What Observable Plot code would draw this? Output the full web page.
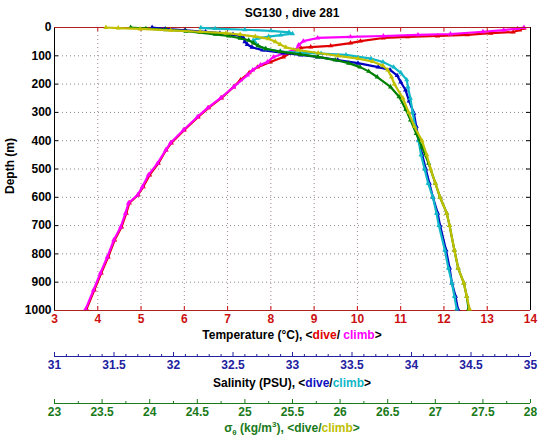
<!DOCTYPE html>
<html><head><meta charset="utf-8">
<script src="https://cdn.jsdelivr.net/npm/d3@7"></script>
<script src="https://cdn.jsdelivr.net/npm/@observablehq/plot@0.6"></script>
<style>
body{margin:0;background:#fff;}
#wrap{position:relative;width:543px;height:442px;font-family:"Liberation Sans",Arial,sans-serif;font-weight:bold;font-size:12px;background:#fff;overflow:hidden}
.layer{position:absolute;left:0;}
.lbl{position:absolute;left:54px;width:476px;text-align:center;white-space:nowrap;line-height:14px;}
sub,sup{font-size:8px;line-height:0;}
</style></head><body>
<div id="wrap">
  <div class="lbl" style="top:6px;color:#000">SG130 , dive 281</div>
  <div class="lbl" style="top:328px;color:#000">Temperature (°C), &lt;<span style="color:#e00000">dive</span>/ <span style="color:#ff00ff">climb</span>&gt;</div>
  <div class="lbl" style="top:376px;color:#000">Salinity (PSU), &lt;<span style="color:#1010c0">dive</span>/<span style="color:#10b8c8">climb</span>&gt;</div>
  <div class="lbl" style="top:421px;color:#1a7a1a">σ<sub>θ</sub> (kg/m<sup>3</sup>), &lt;<span>dive</span>/<span style="color:#c0c000">climb</span>&gt;</div>
  <div style="position:absolute;left:10px;top:166px;transform:translate(-50%,-50%) rotate(-90deg);white-space:nowrap;color:#000">Depth (m)</div>
</div>
<script>
// ---- axis tick values ----
const tempTicks = [3,4,5,6,7,8,9,10,11,12,13,14];
const depthTicks = [0,100,200,300,400,500,600,700,800,900,1000];
const salTicks = [31,31.5,32,32.5,33,33.5,34,34.5,35];
const sigTicks = [23,23.5,24,24.5,25,25.5,26,26.5,27,27.5,28];

// ---- temperature, dive (red) ----
const tempDiveDepth = [3,9,16,20,26,30,33,37,48,55,65,69,72,90,104,122,140,160,185,210,249,284,316,362,408,433,480,521,563,592,620,656,705,751,811,868,928,995];
const tempDive = [13.85,13.75,13.6,13.08,12.54,11.85,11.16,10.6,10.07,9.84,9.38,8.92,8.69,8.45,8.29,7.99,7.69,7.5,7.3,7.14,6.86,6.56,6.32,6.0,5.7,5.58,5.4,5.2,5.05,4.93,4.73,4.66,4.55,4.39,4.24,4.08,3.92,3.74];
// ---- temperature, climb (magenta) ----
const tempClimbDepth = [0,4,9,15,23,26,30,33,37,48,62,72,80,92,104,122,132,150,168,210,249,284,316,362,408,433,480,521,563,592,620,656,705,751,811,868,928,995];
const tempClimb = [13.85,13.7,13.38,12.9,12.15,11.4,10.6,9.84,9.08,8.75,8.64,8.62,8.52,8.3,8.06,7.92,7.76,7.58,7.46,7.14,6.84,6.54,6.3,5.98,5.68,5.57,5.38,5.17,5.03,4.92,4.71,4.64,4.53,4.37,4.22,4.06,3.9,3.72];

// ---- salinity, dive (blue) ----
const salDiveDepth = [0,5,10,15,20,25,30,38,50,60,70,80,90,97,104,115,126,140,150,170,193,221,260,303,350,397,450,500,550,600,656,700,786,850,903,950,995];
const salDive = [31.82,31.93,32.1,32.27,32.39,32.5,32.56,32.59,32.6,32.62,32.66,32.75,32.92,33.07,33.21,33.38,33.55,33.72,33.82,33.88,33.91,33.95,33.98,34.02,34.04,34.06,34.09,34.12,34.15,34.18,34.22,34.24,34.29,34.32,34.34,34.37,34.39];
// ---- salinity, climb (cyan) ----
const salClimbDepth = [1,4,8,12,17,22,27,32,38,45,55,65,75,85,92,97,110,122,140,160,185,210,250,300,350,400,450,500,550,600,656,700,786,850,903,950,995];
const salClimb = [32.23,32.35,32.6,32.82,32.97,33.0,32.9,32.8,32.71,32.67,32.69,32.71,32.77,32.9,33.24,33.45,33.66,33.76,33.85,33.91,33.96,33.97,33.99,34.01,34.03,34.06,34.08,34.11,34.14,34.18,34.21,34.23,34.28,34.31,34.34,34.36,34.38];

// ---- sigma-theta, dive (green) ----
const sigDiveDepth = [0,4,8,13,18,24,30,38,45,55,65,75,85,95,104,115,126,140,155,175,210,245,290,327,375,422,480,550,600,656,700,786,850,903,950,995];
const sigDive = [23.8,23.96,24.17,24.38,24.53,24.69,24.83,24.95,25.04,25.09,25.14,25.22,25.37,25.58,25.77,25.95,26.09,26.21,26.3,26.39,26.53,26.62,26.69,26.74,26.8,26.86,26.93,27.0,27.05,27.12,27.15,27.2,27.24,27.3,27.33,27.35];
// ---- sigma-theta, climb (yellow) ----
const sigClimbDepth = [0,2,5,10,15,20,25,32,40,50,60,70,80,90,100,110,120,135,150,175,200,250,300,350,400,450,500,550,600,656,700,786,850,903,950,995];
const sigClimb = [23.54,23.67,23.9,24.22,24.53,24.8,24.95,25.11,25.25,25.32,25.37,25.43,25.56,25.77,25.98,26.19,26.34,26.45,26.5,26.54,26.57,26.66,26.72,26.78,26.86,26.91,26.95,27.0,27.05,27.12,27.15,27.2,27.24,27.3,27.33,27.36];

const RED = "#e00000", MAG = "#ff00ff", BLUE = "#0000c0", CYAN = "#10b8c8", GREEN = "#008000", YEL = "#c0c000";
const AXRED = "#cc1010", AXBLUE = "#2020a0", AXGREEN = "#1a7a1a";

const W = 543, H = 345, mT = 27, mB = 35, mL = 54, mR = 13;
const fw = W - mL - mR, fh = H - mT - mB;
const font = {fontFamily: "Liberation Sans, Arial, sans-serif", fontSize: "12px", fontWeight: "bold", background: "transparent", overflow: "visible"};

function profile(depth, vals, color) {
  const data = depth.map((d, i) => ({d, v: vals[i]}));
  return [
    Plot.line(data, {x: "v", y: "d", stroke: color, strokeWidth: 2.2}),
    Plot.dot(data, {x: "v", y: "d", fill: color, r: 1.9, symbol: "triangle"})
  ];
}

const wrap = document.getElementById("wrap");
function place(el, top, z) { el.classList.add("layer"); el.style.top = top + "px"; el.style.zIndex = z; wrap.appendChild(el); }

// main temperature panel
const main = Plot.plot({
  width: W, height: H, marginTop: mT, marginBottom: mB, marginLeft: mL, marginRight: mR,
  style: font,
  x: {domain: [3, 14], axis: null}, y: {domain: [0, 1000], reverse: true, axis: null},
  marks: [
    Plot.ruleX(tempTicks.slice(1, -1), {x: d => d, stroke: "#a08888", strokeDasharray: "1,3", strokeWidth: 1}),
    Plot.ruleY(depthTicks.slice(1, -1), {y: d => d, stroke: "#888", strokeDasharray: "1,3", strokeWidth: 1}),
    ...profile(tempDiveDepth, tempDive, RED),
    ...profile(tempClimbDepth, tempClimb, MAG),
    Plot.tickX(tempTicks, {x: d => d, stroke: AXRED, insetTop: fh - 4}),
    Plot.tickX(tempTicks, {x: d => d, stroke: AXRED, insetBottom: fh - 4}),
    Plot.tickY(depthTicks, {y: d => d, stroke: "#000", insetRight: fw - 4}),
    Plot.tickY(depthTicks, {y: d => d, stroke: "#000", insetLeft: fw - 4}),
    Plot.ruleX([3, 14], {x: d => d, stroke: "#000"}),
    Plot.ruleY([0, 1000], {y: d => d, stroke: "#b02020"}),
    Plot.text(tempTicks, {x: d => d, frameAnchor: "bottom", dy: 12, text: d => String(d), fill: AXRED}),
    Plot.text(depthTicks, {y: d => d, frameAnchor: "left", dx: -3, textAnchor: "end", text: d => String(d), fill: "#000"})
  ]
});
place(main, 0, 1);

const sal = Plot.plot({
  width: W, height: H, marginTop: mT, marginBottom: mB, marginLeft: mL, marginRight: mR,
  style: font,
  x: {domain: [31, 35], axis: null}, y: {domain: [0, 1000], reverse: true, axis: null},
  marks: [...profile(salDiveDepth, salDive, BLUE), ...profile(salClimbDepth, salClimb, CYAN)]
});
place(sal, 0, 2);

const sig = Plot.plot({
  width: W, height: H, marginTop: mT, marginBottom: mB, marginLeft: mL, marginRight: mR,
  style: font,
  x: {domain: [23, 28], axis: null}, y: {domain: [0, 1000], reverse: true, axis: null},
  marks: [...profile(sigDiveDepth, sigDive, GREEN), ...profile(sigClimbDepth, sigClimb, YEL)]
});
place(sig, 0, 3);

function axisRow(domain, major, step, color, top) {
  const minor = d3.range(domain[0], domain[1] + 1e-9, step).map(v => +v.toFixed(3)).filter(v => !major.includes(v));
  const p = Plot.plot({
    width: W, height: 44, marginTop: 12, marginBottom: 28, marginLeft: mL, marginRight: mR,
    style: font,
    x: {domain, axis: null}, y: {domain: [0, 1], axis: null},
    marks: [
      Plot.ruleY([0], {y: d => d, stroke: color}),
      Plot.tickX(major, {x: d => d, stroke: color}),
      Plot.tickX(minor, {x: d => d, stroke: color, insetTop: 2}),
      Plot.text(major, {x: d => d, frameAnchor: "bottom", dy: 12, text: d => String(d), fill: color})
    ]
  });
  place(p, top, 4);
}
axisRow([31, 35], salTicks, 0.1, AXBLUE, 340);
axisRow([23, 28], sigTicks, 0.25, AXGREEN, 387);
</script>
</body></html>
